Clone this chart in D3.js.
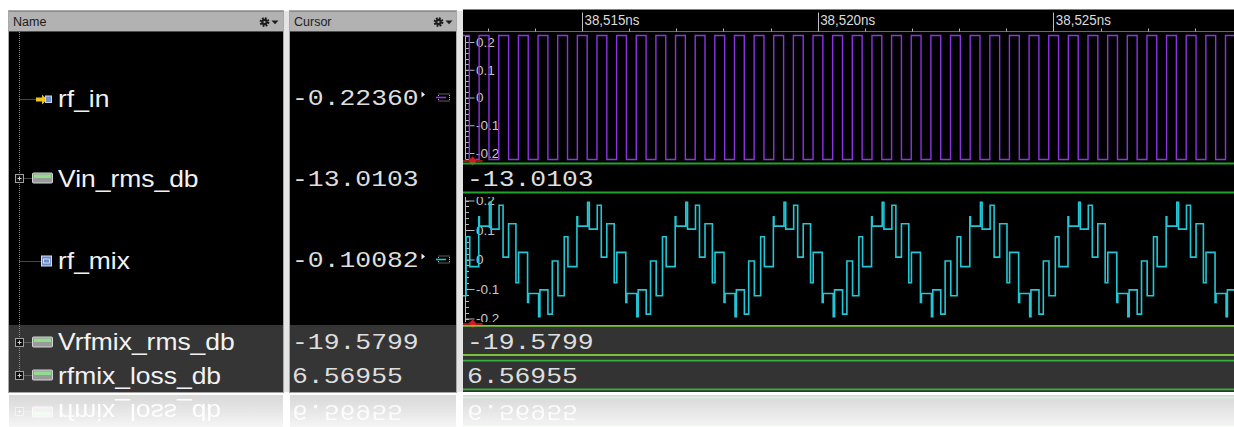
<!DOCTYPE html>
<html>
<head>
<meta charset="utf-8">
<script src="https://cdn.jsdelivr.net/npm/d3@7"></script>
<style>
  html, body { margin: 0; padding: 0; background: #ffffff; overflow: hidden; }
  svg { display: block; }
</style>
</head>
<body>
<svg id="chart" width="1234" height="427"></svg>
<script>
// ---------------------------------------------------------------------------
// Signals shown in the wave window (name, cursor value, bus value)
// ---------------------------------------------------------------------------
const signalNames   = ["rf_in", "Vin_rms_db", "rf_mix", "Vrfmix_rms_db", "rfmix_loss_db"];
const cursorValues  = ["-0.22360", "-13.0103", "-0.10082", "-19.5799", "6.56955"];
const busValues     = [null, "-13.0103", null, "-19.5799", "6.56955"];

// Time ruler (ns)
const timeMajorTicks  = [38515, 38520, 38525];
const timeMajorLabels = ["38,515ns", "38,520ns", "38,525ns"];
const timeMinorTicks  = [38513, 38514, 38516, 38517, 38518, 38519, 38521, 38522,
                         38523, 38524, 38526, 38527, 38528];

// Analog amplitude ticks
const ampMajorTicks  = [-0.2, -0.1, 0, 0.1, 0.2];
const ampTickLabels  = ["-0.2", "-0.1", "0", "0.1", "0.2"];

// Waveform times are stored as ns offsets from this base
const T_BASE = 38510;

// rf_in : square wave, edge times (ns after T_BASE)
const rfInHigh = 0.2236;
const rfInLow  = -0.2236;
const rfInFallTimes = [2.193, 2.610, 3.027, 3.443, 3.860, 4.277, 4.693, 5.110, 5.527, 5.943,
  6.360, 6.777, 7.193, 7.610, 8.027, 8.443, 8.860, 9.277, 9.693, 10.110, 10.527, 10.943,
  11.360, 11.777, 12.193, 12.610, 13.027, 13.443, 13.860, 14.277, 14.693, 15.110, 15.527,
  15.943, 16.360, 16.777, 17.193, 17.610, 18.027, 18.443, 18.860];
const rfInRiseTimes = [2.402, 2.818, 3.235, 3.652, 4.068, 4.485, 4.902, 5.318, 5.735, 6.152,
  6.568, 6.985, 7.402, 7.818, 8.235, 8.652, 9.068, 9.485, 9.902, 10.318, 10.735, 11.152,
  11.568, 11.985, 12.402, 12.818, 13.235, 13.652, 14.068, 14.485, 14.902, 15.318, 15.735,
  16.152, 16.568, 16.985, 17.402, 17.818, 18.235, 18.652];

// rf_mix : stepped waveform, change times (ns after T_BASE) and the new level at each
const rfMixTimes = [
  [1.360, 1.516, 1.572, 1.763, 1.784, 1.997, 2.025, 2.195, 2.287, 2.407, 2.541, 2.619, 2.810, 2.824, 3.036, 3.072, 3.241, 3.326],
  [3.443, 3.599, 3.655, 3.846, 3.867, 4.080, 4.108, 4.278, 4.370, 4.490, 4.624, 4.702, 4.893, 4.907, 5.119, 5.155, 5.324, 5.409],
  [5.527, 5.683, 5.739, 5.930, 5.951, 6.164, 6.192, 6.362, 6.454, 6.574, 6.708, 6.786, 6.977, 6.991, 7.203, 7.239, 7.408, 7.493],
  [7.610, 7.766, 7.822, 8.013, 8.034, 8.247, 8.275, 8.445, 8.537, 8.657, 8.791, 8.869, 9.060, 9.074, 9.286, 9.322, 9.491, 9.576],
  [9.693, 9.849, 9.905, 10.096, 10.117, 10.330, 10.358, 10.528, 10.620, 10.740, 10.874, 10.952, 11.143, 11.157, 11.369, 11.405, 11.574, 11.659],
  [11.777, 11.933, 11.989, 12.180, 12.201, 12.414, 12.442, 12.612, 12.704, 12.824, 12.958, 13.036, 13.227, 13.241, 13.453, 13.489, 13.658, 13.743],
  [13.860, 14.016, 14.072, 14.263, 14.284, 14.497, 14.525, 14.695, 14.787, 14.907, 15.041, 15.119, 15.310, 15.324, 15.536, 15.572, 15.741, 15.826],
  [15.943, 16.099, 16.155, 16.346, 16.367, 16.580, 16.608, 16.778, 16.870, 16.990, 17.124, 17.202, 17.393, 17.407, 17.619, 17.655, 17.824, 17.909],
  [18.027, 18.183, 18.239, 18.430, 18.451, 18.664, 18.692, 18.862, 18.954]
];
const rfMixValues = [
  [0.121, -0.079, 0.024, -0.146, -0.115, -0.194, -0.103, -0.185, -0.005, -0.123, 0.077, -0.024, 0.145, 0.113, 0.194, 0.103, 0.184, 0.008],
  [0.121, -0.079, 0.024, -0.146, -0.115, -0.194, -0.103, -0.185, -0.005, -0.123, 0.077, -0.024, 0.145, 0.113, 0.194, 0.103, 0.184, 0.008],
  [0.121, -0.079, 0.024, -0.146, -0.115, -0.194, -0.103, -0.185, -0.005, -0.123, 0.077, -0.024, 0.145, 0.113, 0.194, 0.103, 0.184, 0.008],
  [0.121, -0.079, 0.024, -0.146, -0.115, -0.194, -0.103, -0.185, -0.005, -0.123, 0.077, -0.024, 0.145, 0.113, 0.194, 0.103, 0.184, 0.008],
  [0.121, -0.079, 0.024, -0.146, -0.115, -0.194, -0.103, -0.185, -0.005, -0.123, 0.077, -0.024, 0.145, 0.113, 0.194, 0.103, 0.184, 0.008],
  [0.121, -0.079, 0.024, -0.146, -0.115, -0.194, -0.103, -0.185, -0.005, -0.123, 0.077, -0.024, 0.145, 0.113, 0.194, 0.103, 0.184, 0.008],
  [0.121, -0.079, 0.024, -0.146, -0.115, -0.194, -0.103, -0.185, -0.005, -0.123, 0.077, -0.024, 0.145, 0.113, 0.194, 0.103, 0.184, 0.008],
  [0.121, -0.079, 0.024, -0.146, -0.115, -0.194, -0.103, -0.185, -0.005, -0.123, 0.077, -0.024, 0.145, 0.113, 0.194, 0.103, 0.184, 0.008],
  [0.121, -0.079, 0.024, -0.146, -0.115, -0.194, -0.103, -0.185, -0.005]
];
const rfMixInitial = 0.008;   // level held before the first listed change
const cursorTime = 38512.68;  // main cursor position (ns)

// ---------------------------------------------------------------------------
// Layout
// ---------------------------------------------------------------------------
const W = 1234, H = 427;
const namePanel   = { x0: 9,   x1: 283 };
const cursorPanel = { x0: 290, x1: 456 };
const wavePanel   = { x0: 463, x1: 1234 };
const headerTop = 11, headerBottom = 32;
const bodyBottom = 392;
const rows = [
  { top: 32,  bottom: 163, mid: 98.5 },
  { top: 163, bottom: 193, mid: 178 },
  { top: 193, bottom: 325, mid: 260.5 },
  { top: 325, bottom: 358, mid: 341.5 },
  { top: 358, bottom: 392, mid: 375 }
];
const busLines = { 1: [163.5, 192.5], 3: [325.8, 355], 4: [360.7, 389.3] };
const busColors = { 1: "#22a22a", 3: "#7ac23a", 4: "#34b23a" };

const NAME_FONT  = "'Liberation Sans', Arial, sans-serif";
const VALUE_FONT = "'Liberation Mono', 'DejaVu Sans Mono', monospace";

const svg = d3.select("#chart");
const defs = svg.append("defs");

// Scales
const x = d3.scaleLinear().domain([38512.476, 38528.832]).range([wavePanel.x0, wavePanel.x1]);
const yIn  = d3.scaleLinear().domain([-0.2, 0.2]).range([153, 42]);
const yMix = d3.scaleLinear().domain([-0.2, 0.2]).range([318.5, 200.5]);

// ---------------------------------------------------------------------------
// Page background and panel frames
// ---------------------------------------------------------------------------
svg.append("rect").attr("width", W).attr("height", H).attr("fill", "#ffffff");
// gaps between panels
[[283, 290], [456, 463]].forEach(([a, b]) => {
  svg.append("rect").attr("x", a).attr("y", headerTop).attr("width", b - a)
    .attr("height", bodyBottom - headerTop).attr("fill", "#e4e4e4");
});

function panelHeader(p, label, gearX) {
  const g = svg.append("g");
  g.append("rect").attr("x", p.x0).attr("y", headerTop).attr("width", p.x1 - p.x0)
    .attr("height", headerBottom - headerTop).attr("fill", "#b2b2b2");
  g.append("line").attr("x1", p.x0).attr("x2", p.x1).attr("y1", headerTop + 0.5).attr("y2", headerTop + 0.5)
    .attr("stroke", "#8c8c8c");
  g.append("line").attr("x1", p.x0).attr("x2", p.x1).attr("y1", headerBottom - 0.5).attr("y2", headerBottom - 0.5)
    .attr("stroke", "#505050");
  g.append("text").attr("x", p.x0 + 4).attr("y", 26).attr("font-family", NAME_FONT)
    .attr("font-size", 12.5).attr("fill", "#1c1c1c").text(label);
  // gear menu button
  const cy = 22;
  g.append("circle").attr("cx", gearX).attr("cy", cy).attr("r", 3.7).attr("fill", "none")
    .attr("stroke", "#1c1c1c").attr("stroke-width", 2.4).attr("stroke-dasharray", "1.7 1.2");
  g.append("circle").attr("cx", gearX).attr("cy", cy).attr("r", 3.2).attr("fill", "#1c1c1c");
  g.append("circle").attr("cx", gearX).attr("cy", cy).attr("r", 1.1).attr("fill", "#b2b2b2");
  g.append("path").attr("d", `M${gearX + 7},${cy - 1.6}h7l-3.5,3.8z`).attr("fill", "#1c1c1c");
}
panelHeader(namePanel, "Name", 264.5);
panelHeader(cursorPanel, "Cursor", 438.5);

// panel bodies
[namePanel, cursorPanel].forEach(p => {
  svg.append("rect").attr("x", p.x0).attr("y", headerBottom).attr("width", p.x1 - p.x0)
    .attr("height", rows[3].top - headerBottom).attr("fill", "#000");
  svg.append("rect").attr("x", p.x0).attr("y", rows[3].top).attr("width", p.x1 - p.x0)
    .attr("height", bodyBottom - rows[3].top).attr("fill", "#353535");
});
// wave window: black ruler + black analog rows + grey selected rows
svg.append("rect").attr("x", wavePanel.x0).attr("y", 9.5).attr("width", wavePanel.x1 - wavePanel.x0)
  .attr("height", rows[3].top - 9.5).attr("fill", "#000");
svg.append("rect").attr("x", wavePanel.x0).attr("y", rows[3].top).attr("width", wavePanel.x1 - wavePanel.x0)
  .attr("height", bodyBottom - rows[3].top).attr("fill", "#333333");
svg.append("line").attr("x1", wavePanel.x0).attr("x2", wavePanel.x1).attr("y1", 31.5).attr("y2", 31.5)
  .attr("stroke", "#6a6a6a");

// panel outlines
[namePanel, cursorPanel].forEach(p => {
  svg.append("rect").attr("x", p.x0 - 0.5).attr("y", headerTop - 0.5).attr("width", p.x1 - p.x0 + 1)
    .attr("height", bodyBottom - headerTop + 1).attr("fill", "none").attr("stroke", "#a8a8a8");
});

// ---------------------------------------------------------------------------
// Time ruler
// ---------------------------------------------------------------------------
const ruler = svg.append("g");
ruler.selectAll("line.minor").data(timeMinorTicks).join("line")
  .attr("x1", d => Math.round(x(d)) + 0.5).attr("x2", d => Math.round(x(d)) + 0.5)
  .attr("y1", 28.5).attr("y2", 31.5).attr("stroke", "#b0b0b0");
ruler.selectAll("line.major").data(timeMajorTicks).join("line")
  .attr("x1", d => Math.round(x(d)) + 0.5).attr("x2", d => Math.round(x(d)) + 0.5)
  .attr("y1", 12.5).attr("y2", 31.5).attr("stroke", "#bdbdbd");
ruler.selectAll("text").data(timeMajorTicks).join("text")
  .attr("x", d => x(d) + 2.5).attr("y", 25)
  .attr("font-family", NAME_FONT).attr("font-size", 15.5).attr("fill", "#dcdcdc")
  .attr("textLength", 55).attr("lengthAdjust", "spacingAndGlyphs")
  .text((d, i) => timeMajorLabels[i]);

// ---------------------------------------------------------------------------
// Step-series helpers
// ---------------------------------------------------------------------------
function stepPoints(events, initial) {
  const [t0, t1] = x.domain();
  const pts = [];
  let level = initial;
  events.forEach(e => { if (e.t <= t0) level = e.v; });
  pts.push({ t: t0 - 0.2, v: level });
  events.filter(e => e.t > t0 && e.t < t1 + 0.3).forEach(e => pts.push(e));
  pts.push({ t: t1 + 0.3, v: pts[pts.length - 1].v });
  return pts;
}

const rfInEvents = rfInFallTimes.map(t => ({ t: T_BASE + t, v: rfInLow }))
  .concat(rfInRiseTimes.map(t => ({ t: T_BASE + t, v: rfInHigh })))
  .sort((a, b) => a.t - b.t);
const rfMixEvents = [];
rfMixTimes.forEach((row, i) => row.forEach((t, j) => rfMixEvents.push({ t: T_BASE + t, v: rfMixValues[i][j] })));

function clipFor(id, top, bottom) {
  defs.append("clipPath").attr("id", id).append("rect")
    .attr("x", wavePanel.x0).attr("y", top).attr("width", wavePanel.x1 - wavePanel.x0)
    .attr("height", bottom - top);
  return `url(#${id})`;
}

// ---------------------------------------------------------------------------
// Analog axis (vertical scale at the left of the wave window)
// ---------------------------------------------------------------------------
function analogAxis(y, top, bottom, clipId) {
  const g = svg.append("g").attr("clip-path", clipFor(clipId, top, bottom));
  const ax = 465.5;
  g.append("line").attr("x1", ax).attr("x2", ax).attr("y1", y(0.222)).attr("y2", y(-0.222))
    .attr("stroke", "#b8b8b8");
  const minor = d3.range(-0.22, 0.2201, 0.02);
  g.selectAll("line.mn").data(minor).join("line")
    .attr("x1", ax).attr("x2", ax + 3.5)
    .attr("y1", d => Math.round(y(d)) + 0.5).attr("y2", d => Math.round(y(d)) + 0.5)
    .attr("stroke", "#b8b8b8");
  const axis = d3.axisRight(y).tickValues(ampMajorTicks).tickSize(9).tickPadding(1.5)
    .tickFormat((d, i) => ampTickLabels[i]);
  const ag = g.append("g").attr("transform", `translate(${ax},0)`).call(axis);
  ag.select(".domain").remove();
  ag.selectAll(".tick line").attr("stroke", "#b8b8b8");
  ag.selectAll(".tick text").attr("fill", "#c8c8c8").attr("font-family", NAME_FONT)
    .attr("font-size", 13.5);
}

// ---------------------------------------------------------------------------
// Waveforms
// ---------------------------------------------------------------------------
const lineIn = d3.line().x(d => x(d.t)).y(d => yIn(d.v)).curve(d3.curveStepAfter);
const lineMix = d3.line().x(d => x(d.t)).y(d => yMix(d.v)).curve(d3.curveStepAfter);

analogAxis(yIn, rows[0].top + 1, rows[0].bottom - 1, "clipAxisIn");
svg.append("path").attr("clip-path", clipFor("clipIn", rows[0].top, rows[0].bottom))
  .attr("d", lineIn(stepPoints(rfInEvents, rfInHigh)))
  .attr("fill", "none").attr("stroke", "#8b34e4").attr("stroke-width", 1.4);

analogAxis(yMix, 197, 322, "clipAxisMix");
svg.append("path").attr("clip-path", clipFor("clipMix", rows[2].top, rows[2].bottom))
  .attr("d", lineMix(stepPoints(rfMixEvents, rfMixInitial)))
  .attr("fill", "none").attr("stroke", "#22c6d4").attr("stroke-width", 1.6);

// cursor markers at the foot of analog rows
[161, 324].forEach(yy => {
  const cx = x(cursorTime);
  svg.append("line").attr("x1", wavePanel.x0).attr("x2", cx + 10).attr("y1", yy).attr("y2", yy)
    .attr("stroke", "#c81818").attr("stroke-width", 1.6);
  svg.append("path").attr("d", `M${cx},${yy - 4.5}L${cx + 4.5},${yy}L${cx},${yy + 4.5}L${cx - 4.5},${yy}Z`)
    .attr("fill", "#d01c1c").attr("stroke", "#7a0a0a").attr("stroke-width", 0.6);
});

// ---------------------------------------------------------------------------
// Rows: names, cursor values, bus traces
// ---------------------------------------------------------------------------
function drawTree(g) {
  g.append("line").attr("x1", 19.5).attr("x2", 19.5).attr("y1", rows[0].top).attr("y2", rows[4].mid)
    .attr("stroke", "#8a8a8a").attr("stroke-dasharray", "1 1");
}

function drawRow(g, i) {
  const r = rows[i];
  const isBus = busValues[i] !== null;
  const my = Math.round(r.mid) + 0.5;
  // tree connector
  g.append("line").attr("x1", 19.5).attr("x2", isBus ? 32 : (i === 0 ? 36 : 41)).attr("y1", my).attr("y2", my)
    .attr("stroke", "#8a8a8a").attr("stroke-dasharray", "1 1");
  if (isBus) {
    // expander box
    g.append("rect").attr("x", 15.5).attr("y", my - 4).attr("width", 8).attr("height", 8)
      .attr("fill", "#101010").attr("stroke", "#a0a0a0");
    g.append("path").attr("d", `M17.5,${my}h4M19.5,${my - 2}v4`).attr("stroke", "#d0d0d0");
    // bus icon
    g.append("rect").attr("x", 32.5).attr("y", my - 5.5).attr("width", 20).attr("height", 10)
      .attr("rx", 1).attr("fill", "#9a9a9a").attr("stroke", "#d4d4d4");
    g.append("rect").attr("x", 34).attr("y", my - 4).attr("width", 17).attr("height", 3.5)
      .attr("fill", "#92dc8e");
  } else if (i === 0) {
    // input port icon
    g.append("path").attr("d", `M36,${my - 2}h6v-3l5,5l-5,5v-3h-6z`).attr("fill", "#f2c21e");
    g.append("rect").attr("x", 45.5).attr("y", my - 3.5).attr("width", 6).attr("height", 6.5)
      .attr("fill", "#6f93cf").attr("stroke", "#c8d4ee");
  } else {
    // analog signal icon
    g.append("rect").attr("x", 41.5).attr("y", my - 5.5).attr("width", 10).attr("height", 10)
      .attr("fill", "#6c8dcc").attr("stroke", "#d8e0f0");
    g.append("rect").attr("x", 43.5).attr("y", my - 2.5).attr("width", 6).attr("height", 4)
      .attr("fill", "none").attr("stroke", "#eef2fa").attr("stroke-width", 0.8);
  }
  // signal name
  g.append("text").attr("transform", `translate(58,${r.mid + 8.5}) scale(1.15,1)`)
    .attr("font-family", NAME_FONT).attr("font-size", 23).attr("fill", "#f2f2f2")
    .text(signalNames[i]);
  // cursor value
  const vy = isBus ? r.mid + 7.5 : r.mid + 6;
  g.append("text").attr("transform", `translate(292,${vy}) scale(1.2,1)`)
    .attr("font-family", VALUE_FONT).attr("font-size", 22).attr("fill", "#dedede")
    .text(cursorValues[i]);
  if (!isBus) {
    const col = i === 0 ? "#8b34e4" : "#22c6d4";
    g.append("path").attr("d", `M421.5,${my - 8}l3.5,3l-3.5,3z`).attr("fill", "#f0f0f0");
    g.append("rect").attr("x", 438.5).attr("y", my - 5.5).attr("width", 11).attr("height", 7)
      .attr("fill", "none").attr("stroke", "#e8e8e8").attr("stroke-width", 0.8).attr("stroke-dasharray", "1 1");
    g.append("line").attr("x1", 436).attr("x2", 446).attr("y1", my - 2).attr("y2", my - 2)
      .attr("stroke", col).attr("stroke-width", 1.6);
  } else {
    // bus trace in the wave window
    busLines[i].forEach(yy => {
      g.append("line").attr("x1", wavePanel.x0).attr("x2", wavePanel.x1).attr("y1", yy).attr("y2", yy)
        .attr("stroke", busColors[i]).attr("stroke-width", 1.8);
    });
    g.append("text").attr("transform", `translate(467,${r.mid + 7.5}) scale(1.2,1)`)
      .attr("font-family", VALUE_FONT).attr("font-size", 22).attr("fill", "#dedede")
      .text(busValues[i]);
  }
}

const rowsG = svg.append("g");
drawTree(rowsG);
rows.forEach((r, i) => drawRow(rowsG, i));

// ---------------------------------------------------------------------------
// Glossy reflection of the last row below the window
// ---------------------------------------------------------------------------
const fade = defs.append("linearGradient").attr("id", "fadeGrad")
  .attr("gradientUnits", "userSpaceOnUse").attr("x1", 0).attr("y1", 394).attr("x2", 0).attr("y2", 427);
fade.append("stop").attr("offset", 0).attr("stop-color", "#fff").attr("stop-opacity", 0.2);
fade.append("stop").attr("offset", 1).attr("stop-color", "#fff").attr("stop-opacity", 0.05);
const mask = defs.append("mask").attr("id", "fadeMask").attr("maskUnits", "userSpaceOnUse")
  .attr("x", 0).attr("y", 394).attr("width", W).attr("height", 33);
mask.append("rect").attr("x", 0).attr("y", 394).attr("width", W).attr("height", 33).attr("fill", "url(#fadeGrad)");

const refl = svg.append("g").attr("mask", "url(#fadeMask)")
  .append("g").attr("transform", `translate(0,${2 * 393.5}) scale(1,-1)`);
[namePanel, cursorPanel].forEach(p => {
  refl.append("rect").attr("x", p.x0).attr("y", rows[4].top).attr("width", p.x1 - p.x0)
    .attr("height", rows[4].bottom - rows[4].top).attr("fill", "#353535");
});
refl.append("rect").attr("x", wavePanel.x0).attr("y", rows[4].top).attr("width", wavePanel.x1 - wavePanel.x0)
  .attr("height", rows[4].bottom - rows[4].top).attr("fill", "#333333");
drawRow(refl, 4);
</script>
</body>
</html>
